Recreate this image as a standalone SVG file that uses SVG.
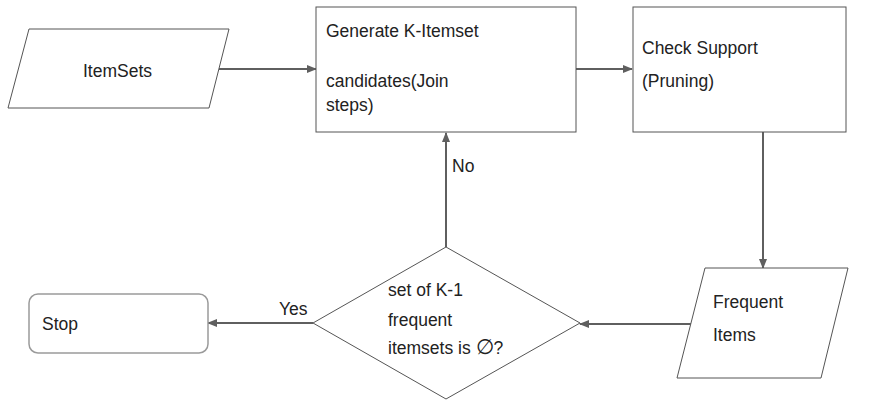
<svg xmlns="http://www.w3.org/2000/svg" width="882" height="401" viewBox="0 0 882 401">
<defs>
<marker id="ah" markerWidth="10" markerHeight="8" refX="9" refY="4" orient="auto" markerUnits="userSpaceOnUse">
<path d="M0,0 L10,4 L0,8 Z" fill="#5f5f5f"/>
</marker>
<style>
.shape{fill:#fff;stroke:#555;stroke-width:1}
.stop{fill:#fff;stroke:#9a9a9a;stroke-width:1.5}
.lbl{font-family:"Liberation Sans",Arial,sans-serif;font-size:17.5px;fill:#222}
.conn{stroke:#5f5f5f;stroke-width:2;fill:none;marker-end:url(#ah)}
</style>
</defs>
<rect width="882" height="401" fill="#fff"/>
<g id="connectors">
<line class="conn" x1="219" y1="69" x2="316" y2="69"/>
<line class="conn" x1="576" y1="69" x2="632" y2="69"/>
<line class="conn" x1="763" y1="132" x2="763" y2="268"/>
<line class="conn" x1="691" y1="324" x2="580" y2="324"/>
<line class="conn" x1="446" y1="247" x2="446" y2="133"/>
<line class="conn" x1="313" y1="323" x2="208" y2="323"/>
<text class="lbl" x="452" y="172">No</text>
<text class="lbl" x="279" y="315">Yes</text>
</g>
<g id="itemsets">
<polygon class="shape" points="29,29 229,29 209,108 8,108"/>
<text class="lbl" x="83" y="77">ItemSets</text>
</g>
<g id="generate">
<rect class="shape" x="316" y="7" width="260" height="125"/>
<text class="lbl" x="326" y="37">Generate K-Itemset</text>
<text class="lbl" x="326" y="87">candidates(Join</text>
<text class="lbl" x="326" y="111">steps)</text>
</g>
<g id="check">
<rect class="shape" x="633" y="7" width="213" height="125"/>
<text class="lbl" x="642" y="54">Check Support</text>
<text class="lbl" x="642" y="87">(Pruning)</text>
</g>
<g id="frequent">
<polygon class="shape" points="705,268 848,268 821,378 677,378"/>
<text class="lbl" x="713" y="308">Frequent</text>
<text class="lbl" x="713" y="341">Items</text>
</g>
<g id="decision">
<polygon class="shape" points="446,247 580,323 446,399 313,323"/>
<text class="lbl" x="388" y="296">set of K-1</text>
<text class="lbl" x="388" y="326">frequent</text>
<text class="lbl" x="388" y="354">itemsets is <tspan font-size="21">∅</tspan>?</text>
</g>
<g id="stop">
<rect class="stop" x="29" y="294" width="179" height="59" rx="9"/>
<text class="lbl" x="42" y="330">Stop</text>
</g>
</svg>
